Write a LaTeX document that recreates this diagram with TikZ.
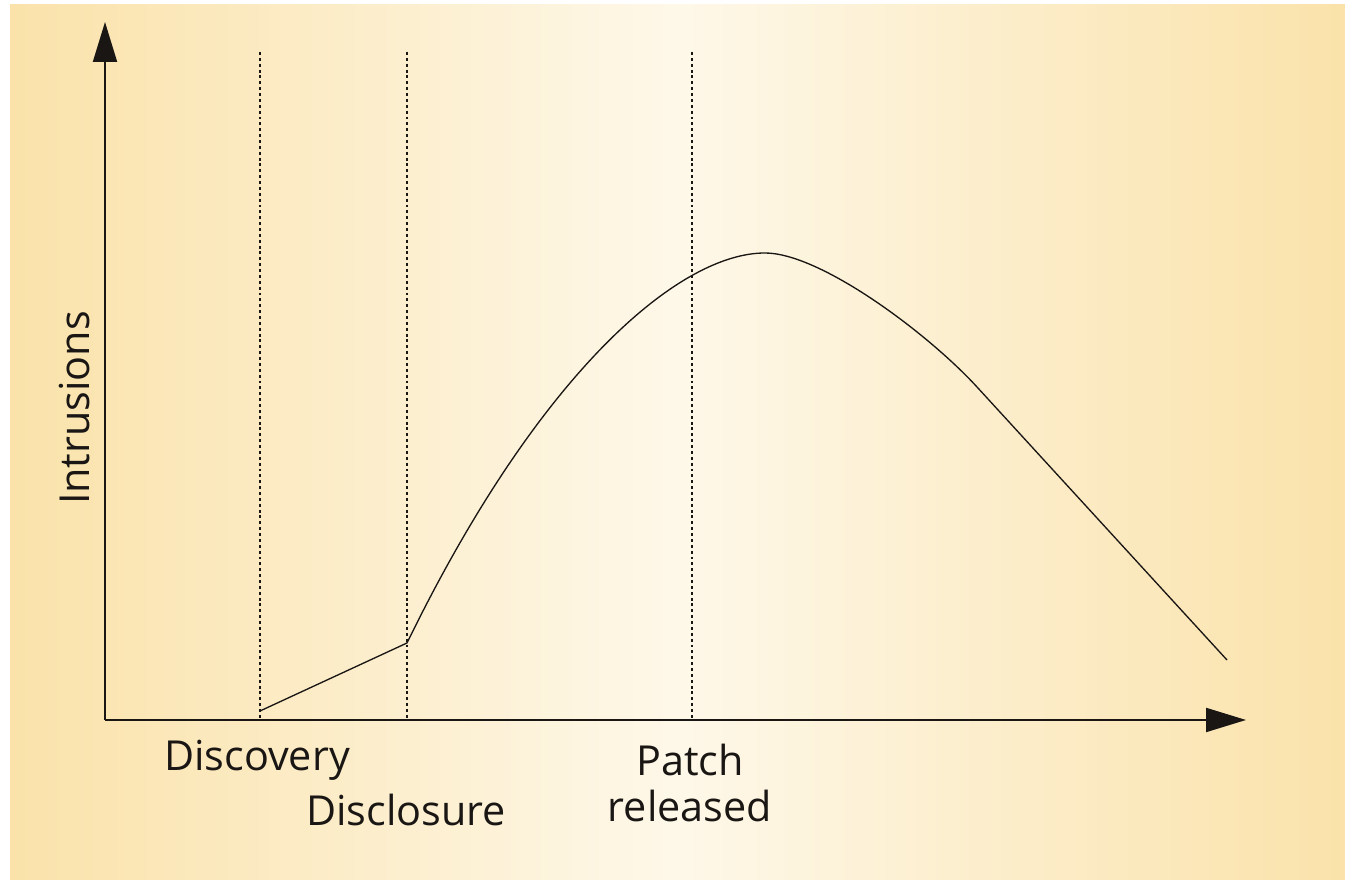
\documentclass[tikz,border=0pt]{standalone}
\usepackage{fontspec}
\setmainfont{Open Sans}
\usetikzlibrary{arrows.meta}
\definecolor{bgedge}{RGB}{250,226,170}
\definecolor{bgmid}{RGB}{254,248,233}
\definecolor{ink}{RGB}{25,22,20}
\tikzset{
  axisline/.style={ink, line width=1.5pt, -{Triangle[length=30pt,width=18pt]}},
  marker/.style={ink, line width=0.9pt, dash pattern=on 2.2pt off 2.2pt},
  label/.style={ink, font=\fontsize{31}{35}\selectfont, inner sep=0pt, align=center}
}
\begin{document}
\begin{tikzpicture}[x=0.75pt, y=0.75pt]
\useasboundingbox (0,0) rectangle (1345,880);
\shade[left color=bgedge, right color=bgedge, middle color=bgmid] (10,0) rectangle (1345,875);
% axes
\coordinate (origin) at (105,160);
\coordinate (ytip) at (105,858);
\coordinate (xtip) at (1246,160);
\draw[axisline] (origin) -- (ytip);
\draw[axisline] (origin) -- (xtip);
% event markers
\coordinate (disc top) at (260,828);
\coordinate (disc bot) at (260,160);
\coordinate (discl top) at (407,828);
\coordinate (discl bot) at (407,160);
\coordinate (patch top) at (692,828);
\coordinate (patch bot) at (692,160);
\draw[marker] (disc top) -- (disc bot);
\draw[marker] (discl top) -- (discl bot);
\draw[marker] (patch top) -- (patch bot);
% intrusion curve
\coordinate (start) at (260,169);
\coordinate (knee) at (407,237);
\coordinate (peak) at (765,627);
\coordinate (bend) at (977,493);
\coordinate (end) at (1227,220);
\draw[ink, line width=1pt, line join=round] (start) -- (knee)
  .. controls (540,510) and (680,627) .. (peak)
  .. controls (820,627) and (927,547.5) .. (bend) -- (end);
% labels
\node[label] (discovery) at (257,120) {Discovery};
\node[label] (disclosure) at (406,70) {Disclosure};
\node[label] (patch) at (690,97) {Patch\\released};
\node[label, rotate=90] (intrusions) at (75,472) {Intrusions};
\end{tikzpicture}
\end{document}
